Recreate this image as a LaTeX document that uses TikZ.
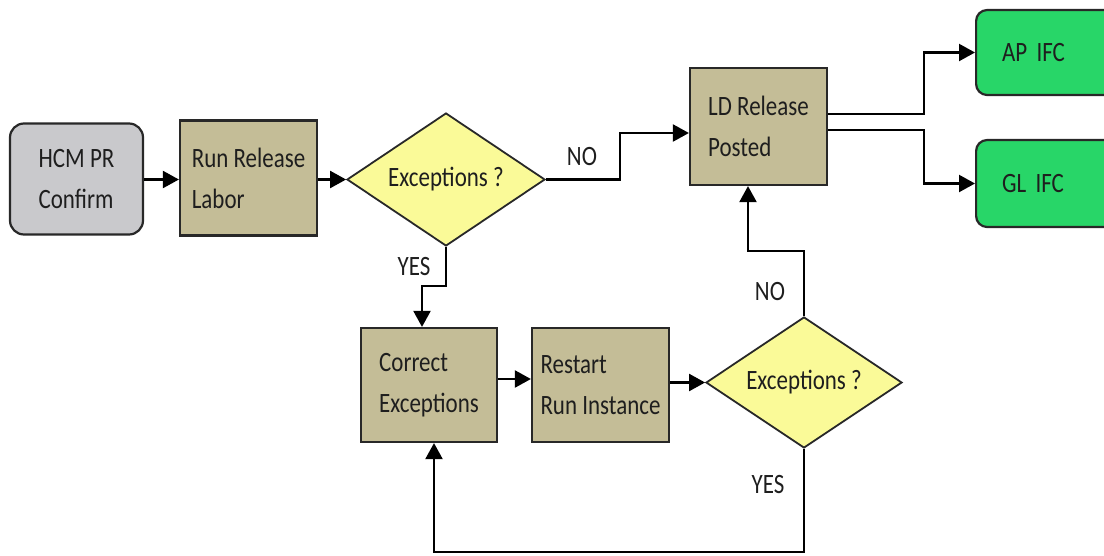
\documentclass[tikz,border=0pt]{standalone}
\usepackage{fontspec}
\setmainfont{Carlito}[FakeStretch=0.82]
\usepackage{tikz}
\usetikzlibrary{shapes.geometric,arrows.meta}
\definecolor{boxtan}{RGB}{196,189,151}
\definecolor{boxgray}{RGB}{201,201,204}
\definecolor{boxyellow}{RGB}{250,250,152}
\definecolor{boxgreen}{RGB}{40,214,104}
\definecolor{linedark}{RGB}{40,40,40}
\definecolor{txtdark}{RGB}{30,30,30}

\begin{document}
\begin{tikzpicture}[x=1pt,y=-1pt,
  font=\fontsize{28}{41}\selectfont,
  every node/.style={text=txtdark},
  stepbox/.style={draw=linedark,line width=2.2pt,fill=boxtan,align=left,
    minimum width=137pt,minimum height=115pt,inner sep=0pt},
  startbox/.style={stepbox,fill=boxgray,rounded corners=14pt,minimum width=133pt,minimum height=111pt},
  endbox/.style={draw=linedark,line width=2.2pt,fill=boxgreen,rounded corners=11pt,align=left,
    minimum width=140pt,text width=88pt,inner xsep=26pt,inner ysep=0pt,anchor=west},
  decision/.style={diamond,draw=linedark,line width=1.8pt,fill=boxyellow,aspect=1.5,
    minimum width=198pt,minimum height=133pt,inner sep=0pt},
  flow/.style={draw=black,line width=2.2pt,-{Triangle[length=16pt,width=17pt]}}]
\useasboundingbox (0,0) rectangle (1104,555);
\clip (0,0) rectangle (1104,555);
\fill[white] (0,0) rectangle (1104,555);

\node[startbox] (hcm) at (76.5,179) {HCM PR\\Confirm};
\node[stepbox] (run) at (248.5,178) {Run Release\\Labor};
\node[decision] (exc1) at (446,179.5) {Exceptions ?};
\node[stepbox,minimum height=117pt] (ld) at (758.5,126.5) {LD Release\\Posted};
\node[endbox,minimum height=85pt] (ap) at (975,52.5) {AP IFC};
\node[endbox,minimum height=87pt] (gl) at (975,183.5) {GL IFC};
\node[stepbox,minimum width=136pt,minimum height=114pt] (corr) at (429,385) {Correct\\Exceptions};
\node[stepbox,minimum height=114pt] (rest) at (600.5,385) {Restart\\Run Instance};
\node[decision,minimum width=196pt,minimum height=131pt] (exc2) at (804,382.5) {Exceptions ?};

\node (no1) at (582,157) {NO};
\node (yes1) at (414,267) {YES};
\node (no2) at (770,292) {NO};
\node (yes2) at (768,485) {YES};

\draw[flow] (hcm.east |- exc1.west) -- (run.west |- exc1.west);
\draw[flow] (run.east |- exc1.west) -- (exc1.west);
\draw[flow] (exc1.east) -- ++(74,0) |- ([yshift=-6.5pt]ld.west);
\draw[flow] (exc1.south) -- ++(0,39) -| ([xshift=-7pt]corr.north);
\draw[flow] ([yshift=6pt]corr.east) -- ([yshift=6pt]rest.west);
\draw[flow] (exc2.west -| rest.east) -- (exc2.west);
\draw[flow] (exc2.north) -- ++(0,-65) -| ([xshift=-10.5pt]ld.south);
\draw[flow] (exc2.south) -- ++(0,103) -| ([xshift=5pt]corr.south);
\draw[flow] ([yshift=12.5pt]ld.east) -- ++(96,0) |- (ap.west);
\draw[flow] ([yshift=-3.5pt]ld.east) -- ++(96,0) |- (gl.west);
\end{tikzpicture}
\end{document}
